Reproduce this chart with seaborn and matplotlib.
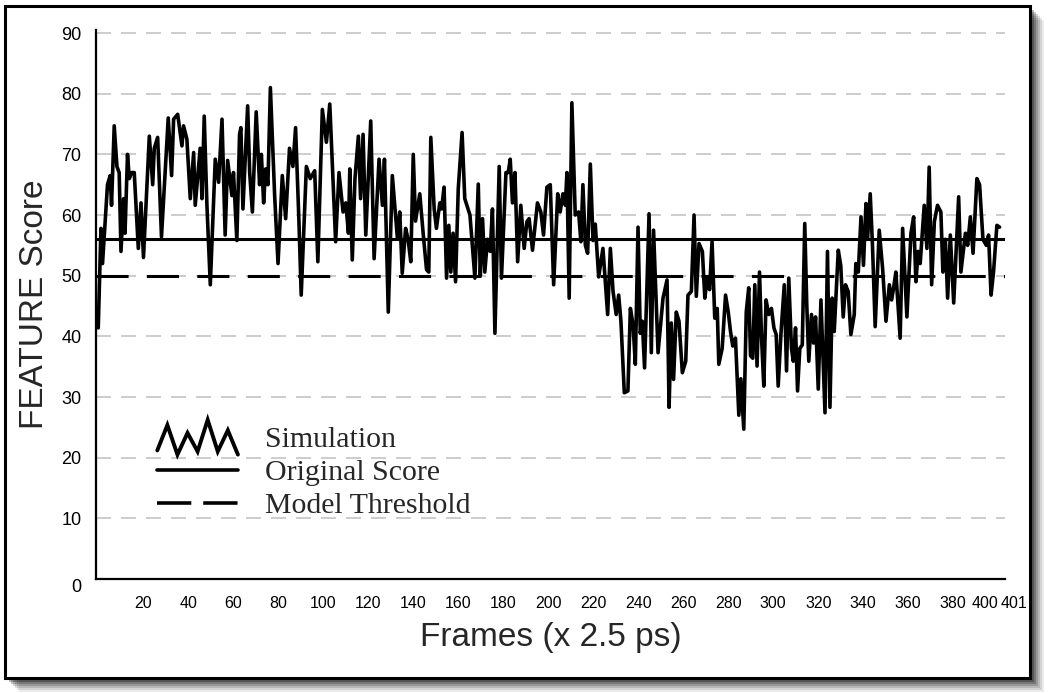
import matplotlib
matplotlib.use("Agg")
import matplotlib.pyplot as plt
import seaborn as sns
import numpy as np
from matplotlib.lines import Line2D
from matplotlib.patches import Rectangle
from matplotlib.legend_handler import HandlerBase

# values (frame, FEATURE score)
frames = [
    0.0, 1.2, 1.9, 4.1, 5.3, 5.9, 7.1, 8.3, 9.3, 10.1, 11.3, 11.9, 13.0, 13.8, 14.8, 16.0,
    17.8, 19.0, 20.1, 22.7, 24.2, 24.9, 26.4, 28.1, 31.1, 32.6,
    33.5, 35.3, 37.2, 37.9, 39.4, 40.9, 42.4, 43.1, 43.9, 45.3, 46.1, 47.1, 48.3, 49.8,
    52.0, 53.5, 55.0, 56.4, 57.5, 59.4, 60.1, 61.6, 62.8, 63.4, 64.3, 66.4,
    67.3, 68.5, 70.2, 71.7, 72.5, 73.5, 74.4, 75.4, 76.5, 78.4, 79.9, 81.8, 83.3, 85.0,
    86.5, 87.7, 89.2, 90.2, 92.5, 94.2, 96.2, 97.6, 99.6,
    101.4, 102.9, 104.3, 105.5, 107.0, 108.8, 110.0, 111.2, 111.8, 112.9, 114.1, 115.6,
    116.6, 117.7, 118.9, 121.1, 122.6, 124.8, 126.3, 127.2, 128.9, 130.7, 133.0,
    134.0, 135.1, 136.6, 137.7, 138.9, 140.0, 141.0, 142.9, 144.4, 145.9, 146.9, 147.8,
    149.3, 150.3, 151.8, 152.6, 153.7, 154.8, 155.8, 156.7, 157.7, 158.8, 160.0, 161.7,
    162.9, 165.2, 167.4,
    168.9, 169.8, 170.8, 171.8, 173.0, 174.2, 175.2, 176.3, 178.2, 179.2, 181.2, 182.2,
    183.1, 184.1, 185.2, 186.4, 187.8, 189.3, 190.5, 191.5, 193.0, 195.2, 196.7, 197.9,
    199.4, 200.9,
    202.4, 204.2, 205.3, 206.5, 207.6, 208.3, 209.3, 210.5, 212.0, 213.5, 214.5, 215.4,
    216.5, 217.5, 218.7, 219.9, 220.9, 222.4, 224.3, 226.4, 227.6, 228.8, 230.2, 231.3,
    232.3, 233.8, 235.4,
    236.5, 237.7, 238.7, 239.9, 240.9, 241.8, 242.8, 244.8, 245.8, 246.8, 248.0, 248.8,
    251.0, 252.8, 253.7, 254.7, 255.7, 256.9, 258.1, 259.6, 261.1, 262.1, 263.6, 264.8,
    265.8, 267.0, 268.5,
    269.6, 270.6, 271.7, 272.8, 274.0, 275.1, 275.8, 277.3, 278.8, 280.0, 281.0, 282.0,
    283.2, 284.7, 285.6, 286.9, 288.0, 289.1, 289.9, 290.9, 291.8, 292.8, 293.9, 294.8,
    295.8, 296.8, 298.0, 299.2, 300.3, 301.3, 302.2,
    303.4, 304.9, 305.9, 306.9, 308.1, 308.9, 309.9, 310.8, 311.8, 312.9, 314.0, 314.9,
    315.8, 317.0, 317.9, 318.8, 320.0, 321.2, 323.0, 324.1, 325.2, 326.2, 327.1, 328.9,
    330.0, 331.1, 332.1, 333.3, 334.5,
    336.0, 336.7, 337.8, 339.0, 340.1, 341.2, 341.9, 343.1, 344.1, 345.3, 347.1, 348.6,
    350.1, 351.6, 352.6, 353.5, 354.5, 356.4, 357.5, 359.4, 361.2, 362.4, 363.4, 364.4,
    365.3, 367.1, 368.3, 369.3, 370.4,
    371.6, 373.0, 374.5, 375.4, 376.5, 377.5, 378.7, 380.2, 381.4, 382.4, 383.4, 385.4,
    386.4, 387.6, 388.8, 390.5, 391.7, 393.2, 394.7, 395.7, 396.8, 397.9, 399.4, 400.6,
]
scores = [
    41.4, 57.8, 52.0, 65.0, 66.5, 61.6, 74.7, 68.0, 67.0, 54.0, 62.7, 57.0, 70.0, 66.0, 67.0, 67.0,
    54.5, 62.0, 53.0, 73.0, 65.0, 71.0, 72.8, 56.4, 76.0, 66.5,
    75.8, 76.6, 71.4, 74.7, 72.5, 62.7, 70.3, 61.6, 65.0, 71.0, 62.7, 76.3, 61.6, 48.5,
    69.2, 65.4, 75.8, 56.7, 69.0, 63.2, 67.0, 55.8, 73.3, 74.4, 61.0, 78.0,
    67.0, 60.5, 77.0, 65.0, 70.0, 62.0, 67.6, 65.0, 81.0, 63.2, 52.0, 66.5, 59.4, 71.0,
    68.0, 74.4, 58.9, 46.8, 68.0, 66.0, 67.3, 52.3, 77.4,
    72.0, 78.3, 66.0, 55.6, 67.0, 60.5, 62.0, 57.0, 67.6, 52.6, 66.0, 73.0,
    62.7, 73.3, 56.7, 75.5, 52.8, 69.2, 61.6, 69.2, 44.0, 66.5, 56.0,
    60.5, 50.4, 57.8, 56.0, 52.3, 70.0, 59.0, 63.5, 57.0, 51.0, 50.6, 72.8,
    61.0, 57.8, 62.0, 61.0, 64.6, 49.6, 58.3, 50.6, 57.0, 49.0, 64.3, 73.6,
    62.7, 60.0, 49.6,
    65.1, 50.0, 59.4, 50.6, 56.0, 54.0, 61.0, 40.5, 68.0, 49.6, 67.0, 67.0,
    69.2, 62.0, 67.0, 52.3, 61.6, 54.5, 58.9, 59.4, 54.2, 62.0, 60.5, 56.7,
    64.6, 65.0,
    48.5, 63.5, 60.5, 63.5, 61.6, 67.0, 46.3, 78.5, 60.0, 60.5, 55.6, 65.0,
    55.0, 53.7, 68.4, 55.8, 58.5, 49.8, 54.5, 43.6, 54.5, 47.4, 43.6, 46.8,
    42.5, 30.7, 31.0,
    44.6, 41.9, 35.4, 58.0, 40.5, 42.5, 34.8, 60.2, 37.3, 57.5, 45.2, 37.3,
    46.3, 49.3, 28.3, 42.2, 32.9, 44.0, 42.5, 34.0, 35.9, 46.8, 47.4, 60.0,
    46.6, 55.3, 54.0,
    46.3, 49.6, 47.7, 55.6, 43.0, 44.6, 35.4, 38.0, 46.8, 44.0, 40.8, 38.4,
    39.7, 27.0, 33.0, 24.7, 44.0, 48.0, 36.8, 36.4, 48.5, 35.1, 50.6, 39.7,
    31.8, 46.0, 43.6, 44.6, 41.4, 40.3, 31.8,
    40.3, 48.5, 34.3, 49.6, 38.0, 35.9, 41.4, 31.0, 38.0, 38.6, 58.6, 45.2,
    35.9, 43.6, 38.9, 43.2, 31.3, 46.0, 27.4, 54.0, 28.3, 46.3, 40.8, 54.2,
    51.7, 43.2, 48.5, 47.4, 40.3,
    43.6, 52.0, 50.6, 59.7, 51.7, 61.9, 56.0, 63.5, 55.0, 41.6, 57.5, 51.2,
    42.5, 48.5, 46.0, 48.0, 50.6, 39.7, 57.8, 43.2, 57.0, 59.7, 49.0, 54.0,
    52.0, 61.6, 54.5, 67.9, 48.5,
    58.9, 61.6, 60.5, 50.6, 56.0, 46.3, 56.7, 45.5, 55.0, 63.0, 50.6, 57.0,
    55.0, 59.7, 53.7, 66.0, 65.0, 56.0, 55.0, 56.7, 46.8, 50.6, 58.3, 58.0,
]
original_score = 56.1
model_threshold = 50
y_ticks = list(range(0, 100, 10))
x_ticks = list(range(20, 420, 20)) + [401]
x_tick_labels = [str(t) for t in x_ticks]
legend_labels = ["Simulation", "Original Score", "Model Threshold"]


class HandlerZigzag(HandlerBase):
    def create_artists(self, legend, orig_handle, xdescent, ydescent,
                       width, height, fontsize, trans):
        xs = np.linspace(-xdescent, width - xdescent, 9)
        lo, hi = -0.35 * height, 1.25 * height
        ys = [lo + 0.2 * height, hi * 0.85, lo, hi * 0.55, lo + 0.15 * height,
              hi * 1.05, lo + 0.15 * height, hi * 0.65, lo]
        line = Line2D(xs, ys, color="black", lw=2.8, solid_joinstyle="miter")
        line.set_transform(trans)
        return [line]


sns.set_style("white")
plt.rcParams["font.family"] = ["Liberation Sans", "DejaVu Sans"]

fig = plt.figure(figsize=(10.5, 6.93), dpi=100)

# outer frame with drop shadow
for i, a in enumerate([0.08, 0.10, 0.13, 0.17, 0.22, 0.28]):
    off = 14 - 2 * i
    fig.patches.append(Rectangle(((5 + off) / 1050, (15 - off) / 693),
                                 1025 / 1050, 672 / 693,
                                 transform=fig.transFigure, facecolor="black",
                                 edgecolor="none", alpha=a, zorder=-3))
fig.patches.append(Rectangle((5 / 1050, 15 / 693), 1025 / 1050, 672 / 693,
                             transform=fig.transFigure, facecolor="white",
                             edgecolor="black", lw=2.2, zorder=-2))

ax = fig.add_axes([96 / 1050, 114 / 693, 909 / 1050, 549 / 693])
ax.set_facecolor("none")

sns.lineplot(x=frames, y=scores, ax=ax, color="black", lw=2.6,
             estimator=None, sort=False, zorder=5)
ax.axhline(original_score, color="black", lw=2.2, zorder=4)
ax.axhline(model_threshold, color="black", lw=2.2, ls=(0, (10.5, 6)), zorder=4)

ax.set_xlim(-1, 403)
ax.set_ylim(0, 90.5)
ax.set_yticks(y_ticks)
ax.set_xticks(x_ticks)
ax.set_xticklabels(x_tick_labels)
ax.yaxis.grid(True, color="#c4c4c4", lw=1.2, ls=(0, (9, 6)))
ax.xaxis.grid(False)
ax.set_axisbelow(True)
ax.tick_params(axis="both", colors="black", direction="inout",
               length=7, width=1.5)
ax.tick_params(axis="x", pad=9, labelsize=11.5)
ax.tick_params(axis="y", pad=7, labelsize=13)
xlabels = ax.get_xticklabels()
xlabels[-2].set_horizontalalignment("right")
xlabels[-1].set_horizontalalignment("left")
ax.get_yticklabels()[0].set_verticalalignment("top")
for s in ["top", "right"]:
    ax.spines[s].set_visible(False)
for s in ["left", "bottom"]:
    ax.spines[s].set_color("black")
    ax.spines[s].set_linewidth(1.6)

ax.set_xlabel("Frames (x 2.5 ps)", fontsize=24, labelpad=8)
ax.set_ylabel("FEATURE Score", fontsize=24, labelpad=8)

handles = [Line2D([], [], color="black"),
           Line2D([], [], color="black", lw=2.6),
           Line2D([], [], color="black", lw=2.6, ls=(0, (9.5, 3.3)))]
leg = ax.legend(handles, legend_labels, loc="lower left",
                bbox_to_anchor=(0.051, 0.082), frameon=False, borderpad=0,
                handlelength=2.7, handletextpad=0.9, labelspacing=0.2,
                prop={"family": ["Liberation Serif", "DejaVu Serif"], "size": 21.5},
                handler_map={handles[0]: HandlerZigzag()})

fig.savefig("out.png", dpi=100)
